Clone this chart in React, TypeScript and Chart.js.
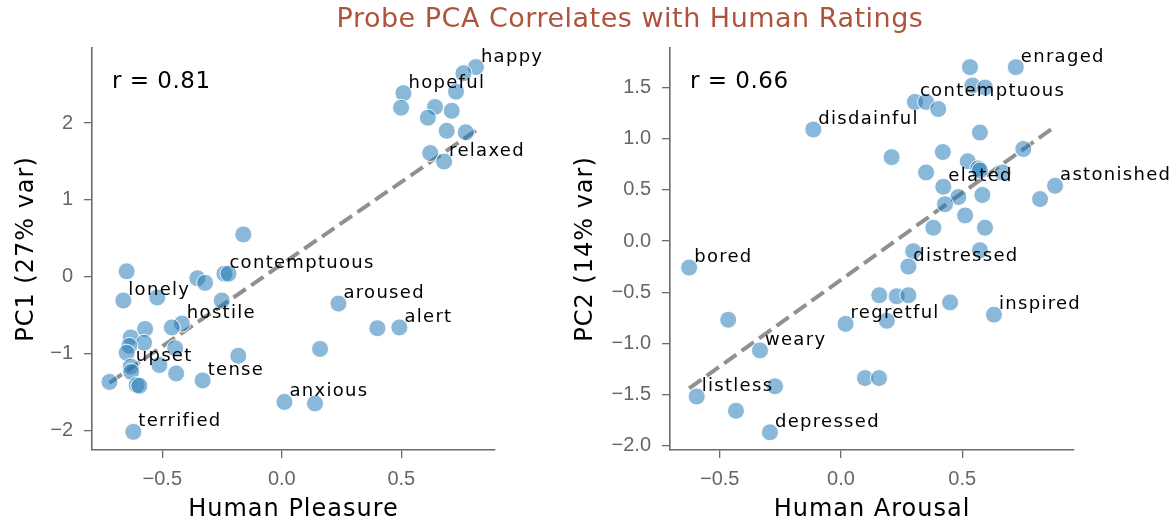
import React, { useEffect, useRef } from "react";
import { Chart, registerables } from "chart.js";

Chart.register(...registerables);

// ---- Human pleasure vs. probe PC1 ----
const pleasureX = [
  0.812, 0.76, 0.729, 0.509, 0.499, 0.641, 0.711, 0.611, 0.69, 0.77, 0.621, 0.679,
  -0.161, -0.649, -0.353, -0.321, -0.24, -0.223, -0.663, -0.521, -0.251, 0.237,
  0.4, 0.492, -0.418, -0.46, -0.572, -0.632, -0.576, -0.638, -0.649, -0.446, 0.16,
  -0.182, -0.512, -0.632, -0.63, -0.442, -0.331, -0.721, -0.607, -0.596, 0.011,
  0.139, -0.621,
];
const pc1Y = [
  2.73, 2.65, 2.41, 2.39, 2.2, 2.21, 2.16, 2.07, 1.9, 1.88, 1.61, 1.5,
  0.55, 0.07, -0.02, -0.08, 0.04, 0.04, -0.31, -0.27, -0.31, -0.35,
  -0.67, -0.66, -0.61, -0.66, -0.68, -0.79, -0.86, -0.9, -0.99, -0.93, -0.94,
  -1.03, -1.15, -1.17, -1.24, -1.26, -1.35, -1.37, -1.41, -1.42, -1.63,
  -1.65, -2.02,
];
const pleasureNames = [
  "happy", "", "", "hopeful", "", "", "", "", "", "", "", "relaxed",
  "", "", "", "", "contemptuous", "", "lonely", "", "", "aroused",
  "", "alert", "hostile", "", "", "", "", "", "", "", "",
  "", "", "upset", "", "", "tense", "", "", "", "anxious",
  "", "terrified",
];

// ---- Human arousal vs. probe PC2 ----
const arousalX = [
  0.532, 0.721, 0.542, 0.594, 0.305, 0.351, 0.401, -0.114, 0.573, 0.752, 0.209,
  0.42, 0.523, 0.566, 0.573, 0.667, 0.351, 0.422, 0.883, 0.821, 0.484, 0.583,
  0.429, 0.512, 0.381, 0.594, 0.298, 0.573, 0.278, -0.626, 0.158, 0.23, 0.278,
  0.45, 0.631, -0.465, 0.019, 0.189, -0.334, 0.099, 0.157, -0.272, -0.595,
  -0.433, -0.293,
];
const pc2Y = [
  1.7, 1.7, 1.52, 1.5, 1.36, 1.36, 1.29, 1.09, 1.06, 0.9, 0.82,
  0.87, 0.78, 0.71, 0.69, 0.67, 0.67, 0.53, 0.54, 0.41, 0.43, 0.45,
  0.36, 0.25, 0.13, 0.13, -0.1, -0.09, -0.25, -0.26, -0.53, -0.54, -0.53,
  -0.6, -0.72, -0.77, -0.81, -0.78, -1.07, -1.34, -1.34, -1.42, -1.52,
  -1.66, -1.87,
];
const arousalNames = [
  "", "enraged", "", "", "contemptuous", "", "", "disdainful", "", "", "",
  "", "", "", "", "", "", "elated", "astonished", "", "", "",
  "", "", "", "", "", "", "distressed", "bored", "", "", "",
  "", "inspired", "", "regretful", "", "weary", "", "", "", "listless",
  "", "depressed",
];

// ---- axis ticks and stats ----
const pleasureTicks = [-0.5, 0, 0.5];
const pc1Ticks = [-2, -1, 0, 1, 2];
const arousalTicks = [-0.5, 0, 0.5];
const pc2Ticks = [-2, -1.5, -1, -0.5, 0, 0.5, 1, 1.5];
const correlations = [0.81, 0.66];

const TITLE = "Probe PCA Correlates with Human Ratings";
const FONT = '"DejaVu Sans", sans-serif';
const H = 521;

const fmt = (v: number, digits: number) => {
  const s = Math.abs(v).toFixed(digits);
  return v < 0 ? "\u2212" + s : s;
};

function leastSquares(xs: number[], ys: number[]) {
  const n = xs.length;
  const mx = xs.reduce((a, b) => a + b, 0) / n;
  const my = ys.reduce((a, b) => a + b, 0) / n;
  let sxy = 0;
  let sxx = 0;
  for (let i = 0; i < n; i++) {
    sxy += (xs[i] - mx) * (ys[i] - my);
    sxx += (xs[i] - mx) * (xs[i] - mx);
  }
  const slope = sxy / sxx;
  return { slope, intercept: my - slope * mx };
}

type PanelProps = {
  left: number;
  width: number;
  areaLeft: number;
  areaRight: number;
  xs: number[];
  ys: number[];
  names: string[];
  xTicks: number[];
  yTicks: number[];
  xDigits: number;
  yDigits: number;
  xMin: number;
  xMax: number;
  yMin: number;
  yMax: number;
  xTitle: string;
  yTitle: string;
  yTitleX: number;
  r: number;
};

function Panel(p: PanelProps) {
  const ref = useRef<HTMLCanvasElement | null>(null);

  useEffect(() => {
    const canvas = ref.current;
    if (!canvas) return;
    const fit = leastSquares(p.xs, p.ys);
    const lo = Math.min(...p.xs);
    const hi = Math.max(...p.xs);
    const fitLine = [
      { x: lo, y: fit.intercept + fit.slope * lo },
      { x: hi, y: fit.intercept + fit.slope * hi },
    ];

    const textPlugin = {
      id: "panelText",
      afterDatasetsDraw(chart: any) {
        const { ctx, chartArea, scales } = chart;
        const sx = scales.x;
        const sy = scales.y;
        ctx.save();
        ctx.fillStyle = "#000000";
        ctx.textAlign = "left";
        ctx.textBaseline = "alphabetic";
        ctx.font = `18px ${FONT}`;
        (ctx as any).letterSpacing = "1.3px";
        p.names.forEach((name, i) => {
          if (!name) return;
          const px = sx.getPixelForValue(p.xs[i]);
          const py = sy.getPixelForValue(p.ys[i]);
          ctx.fillText(name, px + 5, py - 5.5);
        });

        ctx.font = `23px ${FONT}`;
        (ctx as any).letterSpacing = "0.5px";
        ctx.fillText(`r = ${p.r.toFixed(2)}`, chartArea.left + 20, chartArea.top + 40);

        ctx.font = `24px ${FONT}`;
        (ctx as any).letterSpacing = "1px";
        ctx.textAlign = "center";
        ctx.fillText(p.xTitle, (chartArea.left + chartArea.right) / 2, 516);
        ctx.translate(p.yTitleX, (chartArea.top + chartArea.bottom) / 2);
        ctx.rotate(-Math.PI / 2);
        ctx.fillText(p.yTitle, 0, 0);
        ctx.restore();
      },
    };

    const axisColor = "#6b6b6b";
    const tickFont = { family: '"Liberation Sans", Arial, sans-serif', size: 20 };

    const chart = new Chart(canvas, {
      type: "scatter",
      data: {
        datasets: [
          {
            type: "scatter",
            data: p.xs.map((x, i) => ({ x, y: p.ys[i] })),
            pointRadius: 8.5,
            pointHoverRadius: 8.5,
            pointBackgroundColor: "rgba(31,119,180,0.52)",
            pointBorderColor: "rgba(255,255,255,0.9)",
            pointBorderWidth: 1,
            order: 0,
            clip: false,
          } as any,
          {
            type: "line",
            data: fitLine,
            borderColor: "rgba(125,125,125,0.85)",
            borderWidth: 4,
            borderDash: [15, 6.5],
            pointRadius: 0,
            fill: false,
            order: 1,
            clip: false,
          } as any,
        ],
      },
      options: {
        animation: false,
        responsive: false,
        maintainAspectRatio: false,
        events: [],
        layout: {
          padding: { left: 0, top: 48, right: p.width - p.areaRight, bottom: 0 },
        },
        plugins: {
          legend: { display: false },
          tooltip: { enabled: false },
          title: { display: false },
        },
        scales: {
          x: {
            type: "linear",
            min: p.xMin,
            max: p.xMax,
            afterBuildTicks: (s: any) => {
              s.ticks = p.xTicks.map((v) => ({ value: v }));
            },
            afterFit: (s: any) => {
              s.height = H - 450;
            },
            ticks: {
              callback: (v: any) => fmt(Number(v), p.xDigits),
              font: tickFont,
              color: "#666",
              padding: 9,
              maxRotation: 0,
              autoSkip: false,
            },
            grid: {
              drawOnChartArea: false,
              drawTicks: true,
              tickLength: 8,
              color: axisColor,
              lineWidth: 1.3,
            },
            border: { display: true, color: axisColor, width: 1.6 },
          },
          y: {
            type: "linear",
            min: p.yMin,
            max: p.yMax,
            afterBuildTicks: (s: any) => {
              s.ticks = p.yTicks.map((v) => ({ value: v }));
            },
            afterFit: (s: any) => {
              s.width = p.areaLeft;
            },
            ticks: {
              callback: (v: any) => fmt(Number(v), p.yDigits),
              font: tickFont,
              color: "#666",
              padding: 11,
              autoSkip: false,
            },
            grid: {
              drawOnChartArea: false,
              drawTicks: true,
              tickLength: 8,
              color: axisColor,
              lineWidth: 1.3,
            },
            border: { display: true, color: axisColor, width: 1.6 },
          },
        },
      } as any,
      plugins: [textPlugin],
    });

    return () => chart.destroy();
  }, []);

  return (
    <canvas
      ref={ref}
      width={p.width}
      height={H}
      style={{ position: "absolute", left: p.left, top: 0, width: p.width, height: H }}
    />
  );
}

export default function App() {
  return (
    <div
      style={{
        position: "absolute",
        left: 0,
        top: 0,
        width: 1176,
        height: H,
        background: "#ffffff",
        overflow: "hidden",
      }}
    >
      <Panel
        left={0}
        width={560}
        areaLeft={92}
        areaRight={495}
        xs={pleasureX}
        ys={pc1Y}
        names={pleasureNames}
        xTicks={pleasureTicks}
        yTicks={pc1Ticks}
        xDigits={1}
        yDigits={0}
        xMin={-0.794}
        xMax={0.892}
        yMin={-2.256}
        yMax={2.978}
        xTitle="Human Pleasure"
        yTitle="PC1 (27% var)"
        yTitleX={33}
        r={correlations[0]}
      />
      <Panel
        left={560}
        width={616}
        areaLeft={110}
        areaRight={514}
        xs={arousalX}
        ys={pc2Y}
        names={arousalNames}
        xTicks={arousalTicks}
        yTicks={pc2Ticks}
        xDigits={1}
        yDigits={1}
        xMin={-0.705}
        xMax={0.961}
        yMin={-2.043}
        yMax={1.887}
        xTitle="Human Arousal"
        yTitle="PC2 (14% var)"
        yTitleX={32}
        r={correlations[1]}
      />
      <div
        style={{
          position: "absolute",
          left: 630,
          top: 0,
          transform: "translateX(-50%)",
          whiteSpace: "nowrap",
          fontFamily: FONT,
          fontSize: 27,
          lineHeight: "36px",
          letterSpacing: "0.5px",
          color: "#b0533c",
        }}
      >
        {TITLE}
      </div>
    </div>
  );
}
